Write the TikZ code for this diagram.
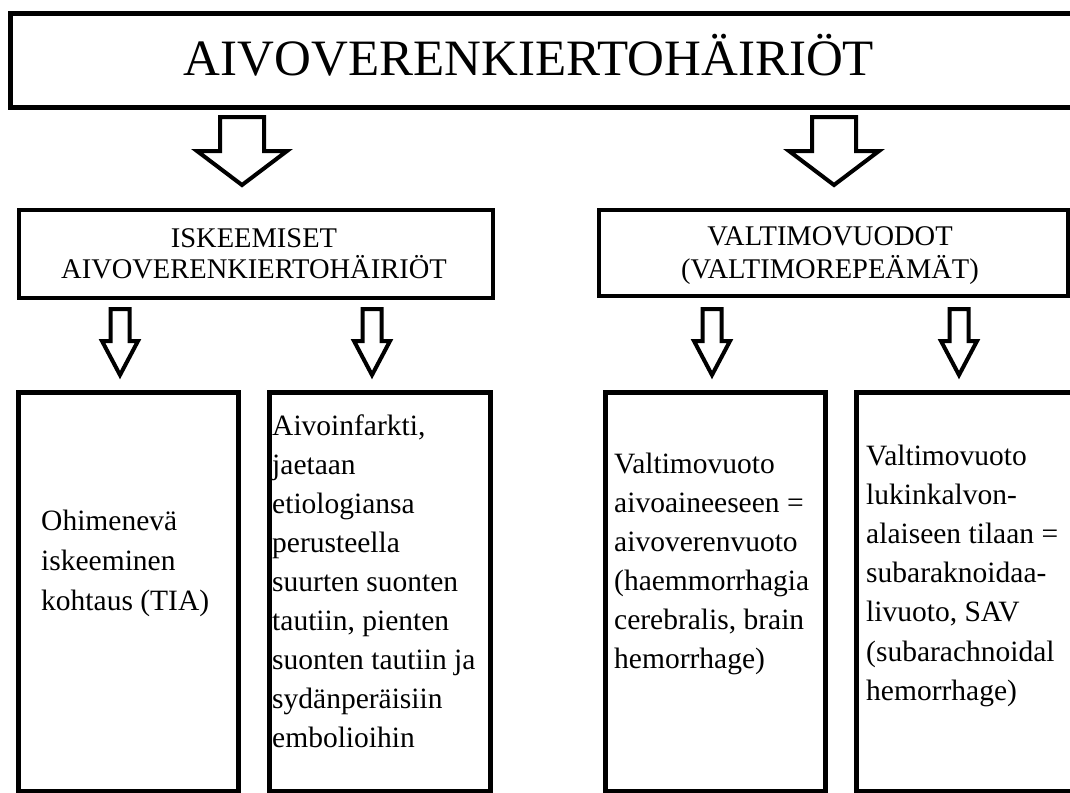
\documentclass[tikz,border=0pt]{standalone}
\usepackage{fontspec}
\setmainfont{Liberation Serif}
\begin{document}
\begin{tikzpicture}[x=1pt,y=-1pt,
  box/.style={draw=black,line width=4.5pt,fill=white,inner sep=0pt,anchor=north west},
  arr/.style={draw=black,line width=4pt,fill=white,line join=miter},
  head/.style={inner sep=0pt,anchor=base},
  body/.style={anchor=base west,inner sep=0pt,text=black},
  pics/blockdown/.style n args={4}{code={
    \draw[arr] (-#1,0) -- (#1,0) -- (#1,#3) -- (#2,#3) -- (0,#4) -- (-#2,#3) -- (-#1,#3) -- cycle;
  }}
]
\useasboundingbox (0,0) rectangle (1070,792);
\clip (0,0) rectangle (1070,792);
\fill[white] (0,0) rectangle (1070,792);

% boxes
\node[box,minimum width=1077pt,minimum height=93.5pt] (top) at (8,11.5) {};
\node[box,minimum width=474pt,minimum height=88pt] (isk) at (16.5,207.5) {};
\node[box,minimum width=469pt,minimum height=86pt] (val) at (596.5,207.5) {};
\node[box,minimum width=220pt,minimum height=399pt] (tia) at (16,390) {};
\node[box,minimum width=221pt,minimum height=399pt] (inf) at (267,390) {};
\node[box,minimum width=220pt,minimum height=399pt] (ich) at (603,390) {};
\node[box,minimum width=236pt,minimum height=399pt] (sav) at (854,390) {};

% texts
\node[head] (toptxt) at (529,75) {\fontsize{51}{51}\selectfont AIVOVERENKIERTOHÄIRIÖT};
\node[head] (isktxt) at (254,247)
  {\fontsize{28.5}{31.5}\selectfont\parbox[t]{460pt}{\centering ISKEEMISET\\AIVOVERENKIERTOHÄIRIÖT}};
\node[head] (valtxt) at (830,245)
  {\fontsize{28.5}{33}\selectfont\parbox[t]{460pt}{\centering VALTIMOVUODOT\\(VALTIMOREPEÄMÄT)}};

\node[body] (tiatxt) at (41,530)
  {\fontsize{29.5}{40}\selectfont\parbox[t]{200pt}{\raggedright Ohimenevä\\iskeeminen\\kohtaus (TIA)}};
\node[body] (inftxt) at (272,435)
  {\fontsize{29.5}{39.1}\selectfont\parbox[t]{220pt}{\raggedright Aivoinfarkti,\\jaetaan\\etiologiansa\\perusteella\\suurten suonten\\tautiin, pienten\\suonten tautiin ja\\sydänperäisiin\\embolioihin}};
\node[body] (ichtxt) at (614,473)
  {\fontsize{29.5}{39}\selectfont\parbox[t]{220pt}{\raggedright Valtimovuoto\\aivoaineeseen =\\aivoverenvuoto\\(haemmorrhagia\\cerebralis, brain\\hemorrhage)}};
\node[body] (savtxt) at (866,465)
  {\fontsize{29.5}{39.2}\selectfont\parbox[t]{220pt}{\raggedright Valtimovuoto\\lukinkalvon-\\alaiseen tilaan =\\subaraknoidaa-\\livuoto, SAV\\(subarachnoidal\\hemorrhage)}};

% block arrows
\pic at (242,117) {blockdown={22}{45}{34}{68}};
\pic at (834,117) {blockdown={22}{45}{34}{68}};
\pic at (120,309) {blockdown={9.5}{18}{32}{66}};
\pic at (372,309) {blockdown={9.5}{18}{32}{66}};
\pic at (712,309) {blockdown={9.5}{18}{32}{66}};
\pic at (959,309) {blockdown={9.5}{18}{32}{66}};
\end{tikzpicture}
\end{document}
